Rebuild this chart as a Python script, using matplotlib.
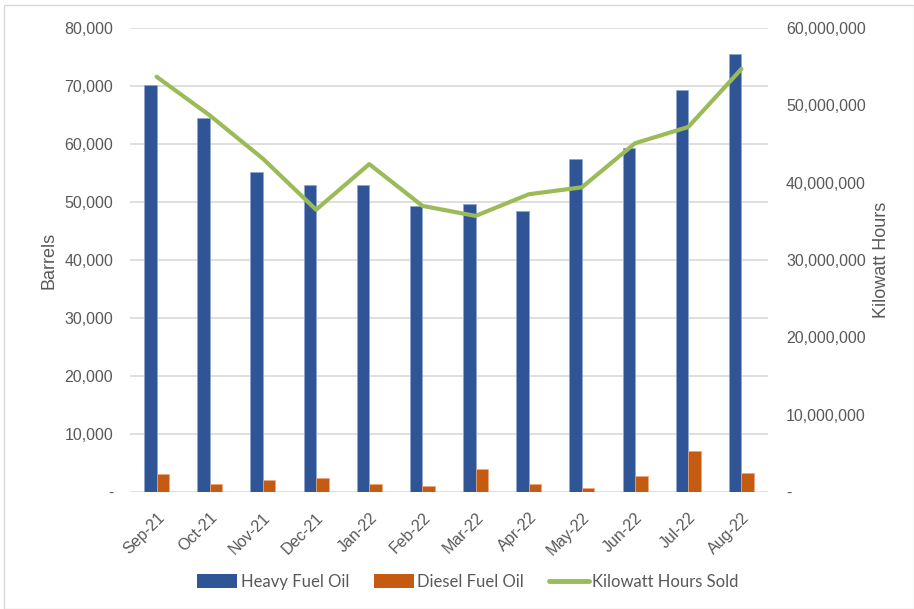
import matplotlib
matplotlib.use("Agg")
import matplotlib.pyplot as plt
import numpy as np
from matplotlib.ticker import FuncFormatter
from matplotlib.lines import Line2D
from matplotlib.patches import Patch

months = ["Sep-21", "Oct-21", "Nov-21", "Dec-21", "Jan-22", "Feb-22",
          "Mar-22", "Apr-22", "May-22", "Jun-22", "Jul-22", "Aug-22"]
heavy_fuel_oil = [70200, 64400, 55100, 52900, 53000, 49300,
                  49600, 48500, 57500, 59300, 69300, 75500]
diesel_fuel_oil = [3150, 1400, 2100, 2450, 1350, 950,
                   3950, 1400, 750, 2800, 7100, 3300]
kwh_sold = [53700000, 48700000, 43100000, 36500000, 42400000, 37000000,
            35700000, 38500000, 39400000, 45100000, 47200000, 54700000]

plt.rcParams['font.family'] = ['Liberation Sans', 'DejaVu Sans']
gray = "#595959"
blue = "#2f5597"
orange = "#c55a11"
green = "#9bbb59"

fig = plt.figure(figsize=(9.14, 6.09), dpi=100)
ax = fig.add_axes([130/914, 1-492/609, 638/914, 464/609])
ax2 = ax.twinx()

x = np.arange(len(months))
w = 0.235
ax.bar(x - w/2, heavy_fuel_oil, width=w, color=blue, edgecolor="#8ea6d1", linewidth=0.5, zorder=3)
ax.bar(x + w/2, diesel_fuel_oil, width=w, color=orange, edgecolor="#e6a97f", linewidth=0.5, zorder=3)
ax2.plot(x, kwh_sold, color=green, linewidth=3, solid_capstyle='round', solid_joinstyle='round', zorder=4)

ax.set_xlim(-0.5, len(months) - 0.5)
ax.set_ylim(0, 80000)
ax2.set_ylim(0, 60000000)
ax.set_yticks(np.arange(0, 80001, 10000))
ax2.set_yticks(np.arange(0, 60000001, 10000000))

fmt = FuncFormatter(lambda v, p: "-" if v == 0 else f"{int(v):,}")
ax.yaxis.set_major_formatter(fmt)
ax2.yaxis.set_major_formatter(fmt)

ax.grid(axis='y', color="#d9d9d9", linewidth=1.2, zorder=0)
ax.set_axisbelow(True)
for a in (ax, ax2):
    for s in a.spines.values():
        s.set_visible(False)
    a.tick_params(length=0, colors=gray, labelsize=11.5)
ax.tick_params(axis='y', pad=12)
ax2.tick_params(axis='y', pad=13)

ax.set_xticks(x)
ax.set_xticklabels(months, rotation=45, ha='right', rotation_mode='anchor', color=gray, fontsize=11.5)
ax.tick_params(axis='x', pad=13)

ax.set_ylabel("Barrels", color=gray, fontsize=13, labelpad=5)
ax2.set_ylabel("Kilowatt Hours", color=gray, fontsize=13, labelpad=5)

handles = [Patch(facecolor=blue), Patch(facecolor=orange),
           Line2D([0], [0], color=green, linewidth=3.5, solid_capstyle='round')]
fig.legend(handles, ["Heavy Fuel Oil", "Diesel Fuel Oil", "Kilowatt Hours Sold"],
           loc='center', bbox_to_anchor=(468/914, 1-582/609), ncol=3, frameon=False,
           prop={'family': ['Lato', 'DejaVu Sans'], 'size': 12}, labelcolor=gray,
           handlelength=2.4, handleheight=0.9, handletextpad=0.2, columnspacing=1.5)

border = plt.Rectangle((4/914, 0), 1-4/914, 1-5/609, transform=fig.transFigure,
                       fill=False, edgecolor="#d9d9d9", linewidth=1)
fig.patches.append(border)

fig.savefig("out.png", dpi=100)
